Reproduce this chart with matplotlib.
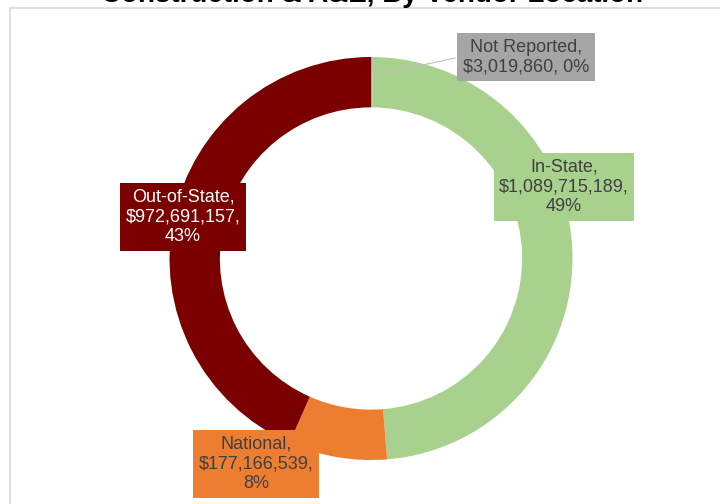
import matplotlib.pyplot as plt
import matplotlib.patches as ptch

#data
categories = ['Not Reported', 'In-State', 'National', 'Out-of-State']
amounts = [3019860, 1089715189, 177166539, 972691157]
colors = ['#a5a5a5', '#a9d18e', '#ed7d31', '#7b0000']
text_colors = ['#404040', '#404040', '#404040', 'white']

# label box centres in pixels (x from left, y from top)
label_pos = [(526, 57), (564, 187), (256, 464), (183, 217)]

plt.rcParams['font.family'] = ['Liberation Sans', 'DejaVu Sans']

W, H = 720, 504
cx, cy, R = 371, 258.5, 201.5

fig = plt.figure(figsize=(W / 100, H / 100), dpi=100)
fig.patch.set_facecolor('white')

# light frame around the chart area
fig.patches.append(ptch.Rectangle((9.5 / W, -0.1), 1.0, (H - 8) / H + 0.1,
                                  transform=fig.transFigure, fill=False,
                                  edgecolor='#d9d9d9', linewidth=1.2))

ax = fig.add_axes([(cx - R) / W, (H - cy - R) / H, 2 * R / W, 2 * R / H])
ax.pie(amounts, colors=colors, startangle=90, counterclock=False, radius=1,
       wedgeprops=dict(width=0.25, linewidth=0))
ax.set_xlim(-1, 1)
ax.set_ylim(-1, 1)
ax.set_aspect('equal')
ax.axis('off')

def to_data(px, py):
    return (px - cx) / R, (cy - py) / R

total = sum(amounts)
for i, name in enumerate(categories):
    pct = round(100 * amounts[i] / total)
    if i == 0:
        txt = f'{name},\n${amounts[i]:,}, {pct}%'
    else:
        txt = f'{name},\n${amounts[i]:,},\n{pct}%'
    x, y = to_data(*label_pos[i])
    ax.text(x, y, txt, ha='center', va='center', fontsize=13,
            color=text_colors[i], linespacing=1.2, zorder=5,
            bbox=dict(boxstyle='square,pad=0.3', facecolor=colors[i],
                      edgecolor='none'))

# leader line for the tiny slice
x0, y0 = to_data(377, 75)
x1, y1 = to_data(455, 58)
ax.plot([x0, x1], [y0, y1], color='#bfbfbf', linewidth=0.8, clip_on=False, zorder=4)

fig.text(372 / W, (H - 2.5) / H, 'Construction & A&E, By Vendor Location',
         ha='center', va='baseline', fontsize=20, fontweight='bold', color='black')

fig.savefig('out.png', dpi=100)
